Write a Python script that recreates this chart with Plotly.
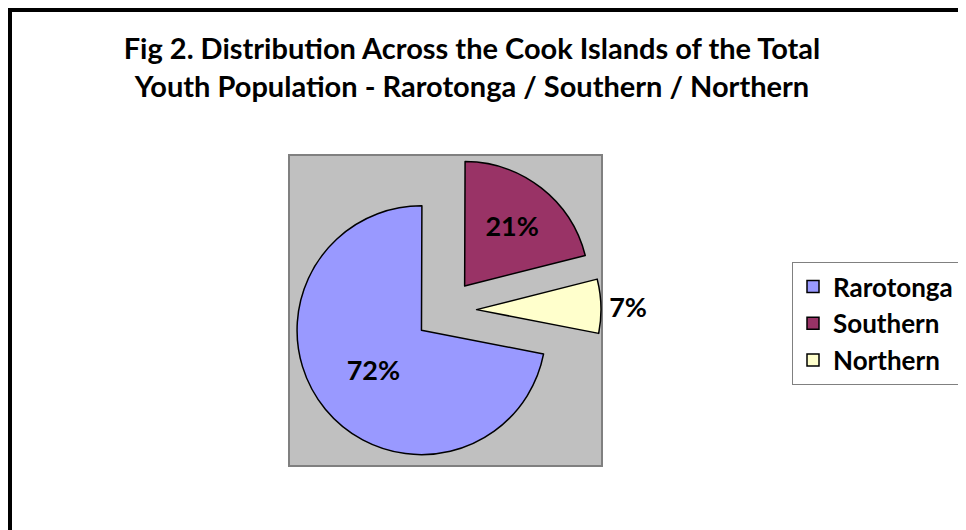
import plotly.graph_objects as go

W, H = 966, 530
OFF = 8  # the page puts the plot 8px in from the window corner

regions = ['Rarotonga', 'Southern', 'Northern']
youth_share = [72, 21, 7]
slice_colors = ['#9999FF', '#993366', '#FFFFCC']
label_positions = ['inside', 'inside', 'outside']

title_text = ('Fig 2. Distribution Across the Cook Islands of the Total<br>'
              'Youth Population - Rarotonga / Southern / Northern')


def px_x(x):
    return (x - OFF) / W


def px_y(y):
    return 1 - (y - OFF) / H


fig = go.Figure()

fig.add_trace(go.Pie(
    labels=regions,
    values=youth_share,
    sort=False,
    direction='clockwise',
    rotation=101,
    pull=[0.25, 0.25, 0.25],
    marker=dict(colors=slice_colors, line=dict(color='black', width=1.5)),
    texttemplate='%{percent:.0%}',
    textposition=label_positions,
    insidetextorientation='horizontal',
    textfont=dict(family='Lato', size=27, color='black', weight='bold'),
    domain=dict(x=[px_x(289), px_x(602)], y=[px_y(466), px_y(155)]),
    hoverinfo='label+percent',
))

# grey plot area behind the pie + outer black frame
fig.add_shape(type='rect', xref='paper', yref='paper', layer='below',
              x0=px_x(289), x1=px_x(602), y0=px_y(466), y1=px_y(155),
              fillcolor='#C0C0C0', line=dict(color='#808080', width=2))
fig.add_shape(type='rect', xref='paper', yref='paper',
              x0=px_x(9), x1=px_x(1000), y0=px_y(600), y1=px_y(9),
              line=dict(color='black', width=6))

fig.update_layout(
    width=W, height=H,
    margin=dict(l=0, r=0, t=0, b=0),
    paper_bgcolor='white',
    font=dict(family='Lato', color='black'),
    title=dict(text=title_text, x=px_x(472), xanchor='center',
               y=px_y(59), yanchor='middle',
               font=dict(family='Lato', size=29, color='black', weight='bold')),
    showlegend=True,
    legend=dict(x=px_x(792), xanchor='left', y=px_y(262), yanchor='top',
                bgcolor='white', bordercolor='#808080', borderwidth=1,
                font=dict(family='Lato', size=26, color='black', weight='bold')),
)

fig.write_html('out.html')
